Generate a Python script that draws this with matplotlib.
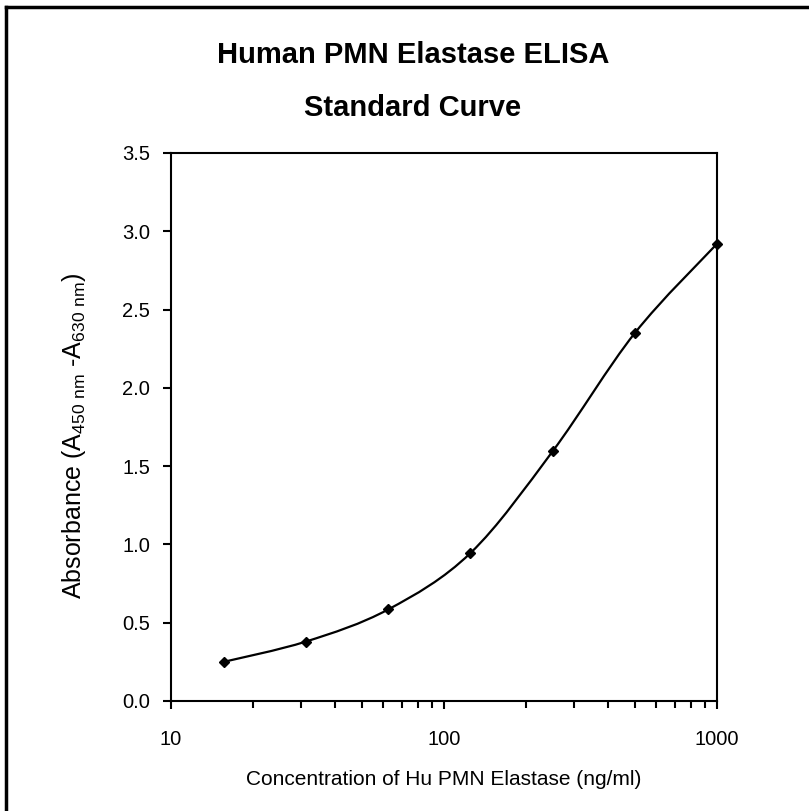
import numpy as np
import matplotlib
matplotlib.use("Agg")
import matplotlib.pyplot as plt
from matplotlib.path import Path
from matplotlib.patches import PathPatch
from matplotlib.lines import Line2D
from matplotlib.ticker import FixedLocator, NullFormatter, FixedFormatter

plt.rcParams['font.family'] = ['Liberation Sans', 'DejaVu Sans']
plt.rcParams['mathtext.fontset'] = 'custom'
plt.rcParams['mathtext.rm'] = 'Liberation Sans'

concentration = [15.6, 31.25, 62.5, 125, 250, 500, 1000]
absorbance = [0.25, 0.38, 0.585, 0.945, 1.595, 2.35, 2.92]
y_ticks = [0.0, 0.5, 1.0, 1.5, 2.0, 2.5, 3.0, 3.5]
x_major = [10, 100, 1000]
x_labels = ['10', '100', '1000']

fig = plt.figure(figsize=(8.09, 8.11), dpi=100)
W, H = 809, 811
ax = fig.add_axes([171 / W, 1 - 701 / H, (717 - 171) / W, (701 - 153) / H])
ax.set_xscale('log')
ax.set_xlim(10, 1000)
ax.set_ylim(0, 3.5)

# Smoothed curve (Catmull-Rom as Bezier, computed in log-x space)
lx = np.log10(concentration)
yy = np.array(absorbance)
n = len(lx)
verts = [(concentration[0], yy[0])]
codes = [Path.MOVETO]
for i in range(n - 1):
    p0 = (lx[max(i - 1, 0)], yy[max(i - 1, 0)])
    p1 = (lx[i], yy[i])
    p2 = (lx[i + 1], yy[i + 1])
    p3 = (lx[min(i + 2, n - 1)], yy[min(i + 2, n - 1)])
    c1 = (p1[0] + (p2[0] - p0[0]) / 6, p1[1] + (p2[1] - p0[1]) / 6)
    c2 = (p2[0] - (p3[0] - p1[0]) / 6, p2[1] - (p3[1] - p1[1]) / 6)
    verts += [(10 ** c1[0], c1[1]), (10 ** c2[0], c2[1]), (10 ** p2[0], p2[1])]
    codes += [Path.CURVE4] * 3
patch = PathPatch(Path(verts, codes), facecolor='none', edgecolor='black', lw=1.6, zorder=3, clip_on=False)
ax.add_patch(patch)
ax.plot(concentration, absorbance, linestyle='none', marker='D', markersize=5.5,
        color='black', zorder=4, clip_on=False)

ax.set_yticks(y_ticks)
ax.set_yticklabels([f'{v:.1f}' for v in y_ticks])
ax.xaxis.set_major_locator(FixedLocator(x_major))
ax.xaxis.set_major_formatter(FixedFormatter(x_labels))
ax.xaxis.set_minor_formatter(NullFormatter())
ax.tick_params(axis='both', which='both', direction='out', color='black', width=1.5)
ax.tick_params(axis='x', which='major', length=6, pad=15, labelsize=14.5)
ax.tick_params(axis='x', which='minor', length=5)
ax.tick_params(axis='y', which='major', length=6, pad=9, labelsize=14.5)
for s in ax.spines.values():
    s.set_linewidth(1.5)
    s.set_color('black')

ax.set_xlabel('Concentration of Hu PMN Elastase (ng/ml)', fontsize=15, labelpad=15)
ax.set_ylabel(r'Absorbance (A$_{\mathregular{450\ nm}}$ -A$_{\mathregular{630\ nm}}$)',
              fontsize=18)
ax.yaxis.set_label_coords(-0.152, 0.484)

fig.text(413 / W, 1 - 55 / H, 'Human PMN Elastase ELISA', ha='center', va='center',
         fontsize=21, fontweight='bold')
fig.text(413 / W, 1 - 108 / H, 'Standard Curve', ha='center', va='center',
         fontsize=21, fontweight='bold')

# figure border (top and left visible)
fig.add_artist(Line2D([6 / W, 6 / W], [0, 1 - 7 / H], transform=fig.transFigure, color='black', lw=2.5))
fig.add_artist(Line2D([6 / W, 1], [1 - 7 / H, 1 - 7 / H], transform=fig.transFigure, color='black', lw=2.5))

fig.savefig('out.png', dpi=100)
